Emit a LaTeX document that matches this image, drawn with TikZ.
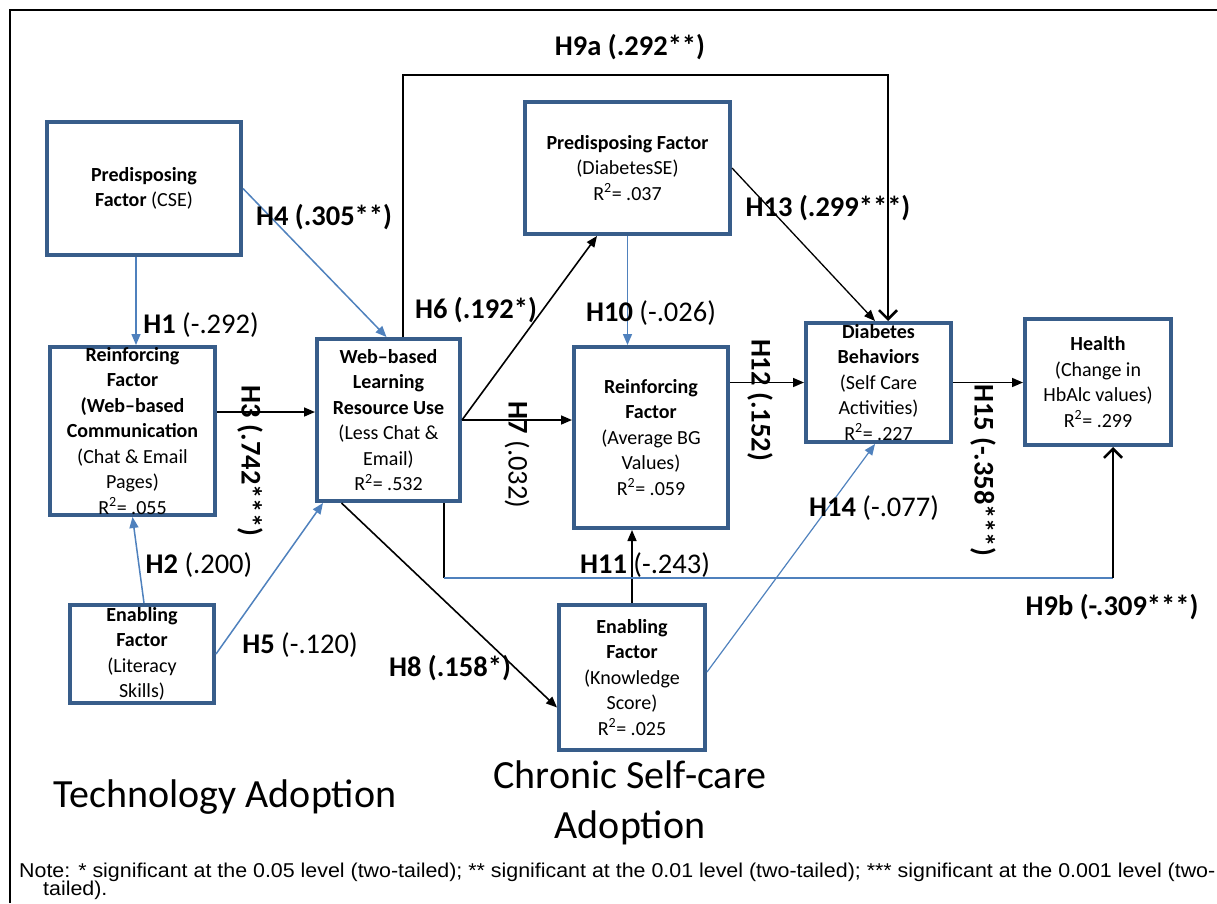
\documentclass[tikz,border=0pt]{standalone}
\usepackage{fontspec}
\setmainfont{Carlito}
\newfontfamily\notefont[FakeStretch=1.07]{Liberation Sans}
\usetikzlibrary{arrows.meta}
\definecolor{boxblue}{HTML}{385D8A}
\definecolor{linkblue}{HTML}{4F81BD}
\newcommand{\boxtext}{\fontsize{20}{25.5}\selectfont}
\newcommand{\hyptext}{\fontsize{28.5}{32}\selectfont}
\newcommand{\stagetext}{\fontsize{40}{50}\selectfont}

\begin{document}
\begin{tikzpicture}[x=1pt,y=1pt,
    factor/.style={draw=boxblue, line width=4pt, inner sep=0pt},
    inbox/.style={font=\boxtext, align=center, inner sep=0pt},
    techlink/.style={draw=linkblue, line width=1.5pt, -{Triangle[length=11pt,width=9pt]}},
    carelink/.style={draw=black, line width=1.6pt, -{Triangle[length=11pt,width=9pt]}},
    directlink/.style={draw=black, line width=2.6pt},
    hyp/.style={font=\hyptext, inner sep=0pt},
    stage/.style={font=\stagetext, align=center, inner sep=0pt}]
        \useasboundingbox (0,0) rectangle (1217,-903);
        \draw [black, line width=2pt] (10,-903) -- (10,-10) -- (1217,-10);
        % factor boxes
        \node [factor, minimum width=194pt, minimum height=133pt, label={[inbox]center:{\textbf{Predisposing}\\\textbf{Factor} (CSE)}}] (cse) at (144,-188.5) {};
        \node [factor, minimum width=165pt, minimum height=168pt, label={[inbox]center:{\textbf{Reinforcing}\\\textbf{Factor}\\\textbf{(Web--based}\\\textbf{Communication}\\(Chat \& Email\\Pages)\\R\textsuperscript{2}= .055}}] (comm) at (132.5,-431) {};
        \node [factor, minimum width=144pt, minimum height=98pt, label={[inbox]center:{\textbf{Enabling}\\\textbf{Factor}\\(Literacy\\Skills)}}] (lit) at (142,-654) {};
        \node [factor, minimum width=143pt, minimum height=162pt, label={[inbox]center:{\textbf{Web--based}\\\textbf{Learning}\\\textbf{Resource Use}\\(Less Chat \&\\Email)\\R\textsuperscript{2}= .532}}] (web) at (388.5,-420) {};
        \node [factor, minimum width=205pt, minimum height=132pt, label={[inbox]center:{\textbf{Predisposing Factor}\\(DiabetesSE)\\R\textsuperscript{2}= .037}}] (dse) at (627.5,-168) {};
        \node [factor, minimum width=154pt, minimum height=181pt, label={[inbox]center:{\textbf{Reinforcing}\\\textbf{Factor}\\(Average BG\\Values)\\R\textsuperscript{2}= .059}}] (avg) at (651,-437.5) {};
        \node [factor, minimum width=146pt, minimum height=145pt, label={[inbox]center:{\textbf{Enabling}\\\textbf{Factor}\\(Knowledge\\Score)\\R\textsuperscript{2}= .025}}] (know) at (632,-677.5) {};
        \node [factor, minimum width=145pt, minimum height=119pt, label={[inbox]center:{\textbf{Diabetes}\\\textbf{Behaviors}\\(Self Care\\Activities)\\R\textsuperscript{2}= .227}}] (beh) at (878.5,-382.5) {};
        \node [factor, minimum width=146pt, minimum height=126pt, label={[inbox]center:{\textbf{Health}\\(Change in\\HbAlc values)\\R\textsuperscript{2}= .299}}] (health) at (1098,-382) {};
        % paths
        \draw [techlink] ([xshift=-8pt]cse.south) -- ([xshift=3.5pt]comm.north);
        \draw [techlink] (cse.east) -- ([xshift=-2pt]web.north);
        \draw [carelink] ([yshift=19pt]comm.east) -- ([yshift=19pt]comm.east -| web.west);
        \draw [techlink] ([xshift=2pt]lit.north) -- (comm.south);
        \draw [techlink] (lit.east) -- ([xshift=8pt]web.south west);
        \draw [carelink] (web.east) -- ([xshift=-30.5pt]dse.south);
        \draw [carelink] (web.east) -- (web.east -| avg.west);
        \draw [carelink] ([xshift=-47pt]web.south) -- ([yshift=-30pt]know.west);
        \draw [techlink] (dse.south) -- (dse.south |- avg.north);
        \draw [carelink] (know.north) -- (know.north |- avg.south);
        \draw [carelink] (beh.west -| avg.east) -- (beh.west);
        \draw [carelink, line width=1.3pt] (dse.east) -- ([xshift=-3.5pt]beh.north);
        \draw [techlink, line width=1.2pt] ([yshift=5.5pt]know.east) -- ([xshift=-3.5pt]beh.south);
        \draw [carelink] (beh.east) -- (beh.east -| health.west);
        \coordinate (h9top) at (0,-75);
        \coordinate (h9low) at (0,-578);
        \draw [directlink, -{Straight Barb[length=9pt,width=18pt]}] ([xshift=14.5pt]web.north) -- ([xshift=14.5pt]web.north |- h9top) -| ([xshift=9.5pt]beh.north);
        \coordinate (h9left) at ([xshift=55.5pt]web.south |- h9low);
        \coordinate (h9right) at ([xshift=15pt]health.south |- h9low);
        \draw [directlink] ([xshift=55.5pt]web.south) -- (h9left);
        \draw [draw=linkblue, line width=1.5pt] (h9left) -- (h9right);
        \draw [directlink, -{Straight Barb[length=9pt,width=18pt]}] (h9right) -- ([xshift=15pt]health.south);
        % hypothesis labels
        \node [hyp] (h1) at (201,-325) {\textbf{H1} (-.292)};
        \node [hyp] (h2) at (199,-565) {\textbf{H2} (.200)};
        \node [hyp, rotate=-90] (h3) at (250,-461) {\textbf{H3 (.742***)}};
        \node [hyp] (h4) at (324,-217) {\textbf{H4 (.305**)}};
        \node [hyp] (h5) at (300,-645) {\textbf{H5} (-.120)};
        \node [hyp] (h6) at (476,-310) {\textbf{H6 (.192*)}};
        \node [hyp, rotate=-90] (h7) at (517,-455) {\textbf{H7} (.032)};
        \node [hyp] (h8) at (450,-668) {\textbf{H8 (.158*)}};
        \node [hyp] (h9a) at (630,-47) {\textbf{H9a (.292**)}};
        \node [hyp] (h9b) at (1112,-607) {\textbf{H9b (-.309***)}};
        \node [hyp] (h10) at (651,-313) {\textbf{H10} (-.026)};
        \node [hyp] (h11) at (645,-565) {\textbf{H11} (-.243)};
        \node [hyp, rotate=-90] (h12) at (760,-400) {\textbf{H12 (.152)}};
        \node [hyp] (h13) at (828,-208) {\textbf{H13 (.299***)}};
        \node [hyp] (h14) at (874,-508) {\textbf{H14} (-.077)};
        \node [hyp, rotate=-90] (h15) at (983,-470) {\textbf{H15 (-.358***)}};
        % stages and note
        \node [stage] (techstage) at (225,-797) {Technology Adoption};
        \node [stage] (carestage) at (630,-803) {Chronic Self-care\\Adoption};
        \node [anchor=base west, inner sep=0pt, font=\notefont\fontsize{20}{20}\selectfont] (note1) at (19,-877) {Note: * significant at the 0.05 level (two-tailed); ** significant at the 0.01 level (two-tailed); *** significant at the 0.001 level (two-};
        \node [anchor=base west, inner sep=0pt, font=\notefont\fontsize{20}{20}\selectfont] (note2) at (43,-895) {tailed).};
\end{tikzpicture}
\end{document}
